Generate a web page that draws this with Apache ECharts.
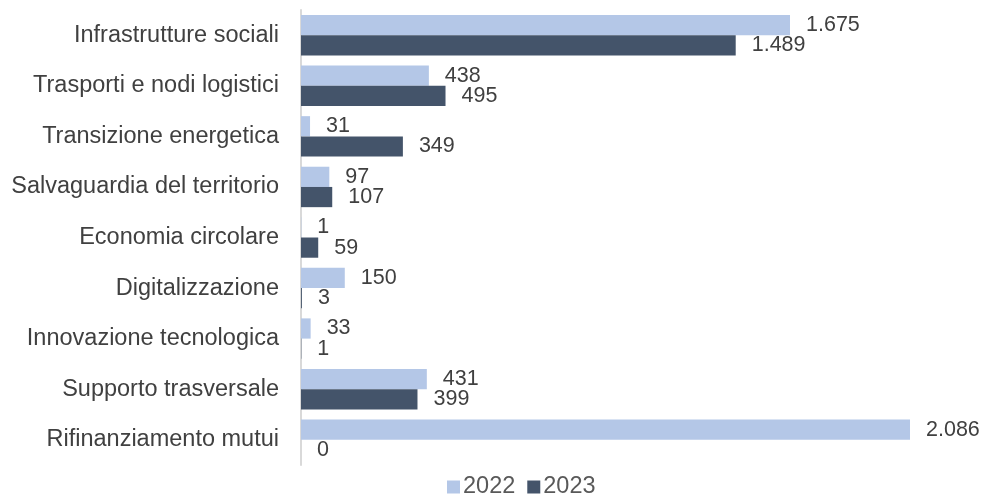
<!DOCTYPE html>
<html>
<head>
<meta charset="utf-8">
<script src="https://cdn.jsdelivr.net/npm/echarts@6/dist/echarts.min.js"></script>
<style>
  html, body { margin: 0; padding: 0; background: #fff; }
  #divBar { width: 988px; height: 498px; }
</style>
</head>
<body>
<div id="divBar"></div>
<script>
var categories = ['Infrastrutture sociali', 'Trasporti e nodi logistici', 'Transizione energetica',
    'Salvaguardia del territorio', 'Economia circolare', 'Digitalizzazione',
    'Innovazione tecnologica', 'Supporto trasversale', 'Rifinanziamento mutui'];
var values2022 = [1675, 438, 31, 97, 1, 150, 33, 431, 2086];
var values2023 = [1489, 495, 349, 107, 59, 3, 1, 399, 0];
var seriesNames = ['2022', '2023'];

var font = 'Liberation Sans, Arial, sans-serif';

function fmt(v) {
    return String(v).replace(/\B(?=(\d{3})+(?!\d))/g, '.');
}

var chart = echarts.init(document.getElementById('divBar'));

var labelStyle = {
    show: true,
    position: 'right',
    distance: 16,
    color: '#404040',
    fontSize: 21.5,
    fontFamily: font,
    formatter: function (p) { return fmt(p.value); }
};

var option = {
    animation: false,
    legend: {
        top: 470,
        left: 442,
        itemWidth: 13,
        itemHeight: 13,
        itemGap: 12,
        icon: 'rect',
        textStyle: { color: '#595959', fontSize: 23.5, fontFamily: font, padding: [0, 0, 0, -2] },
        data: seriesNames
    },
    grid: {
        left: 301,
        right: 78,
        top: 10,
        bottom: 33,
        containLabel: false
    },
    xAxis: {
        type: 'value',
        min: 0,
        max: 2086,
        show: false,
        splitLine: { show: false }
    },
    yAxis: {
        type: 'category',
        inverse: true,
        data: categories,
        axisLine: { show: true, lineStyle: { color: '#d9d9d9', width: 2 } },
        axisTick: { show: false },
        axisLabel: { color: '#404040', fontSize: 23.5, fontFamily: font, margin: 22 }
    },
    series: [
        {
            name: seriesNames[0],
            type: 'bar',
            color: '#b4c7e7',
            barGap: '0%',
            barCategoryGap: '20%',
            label: labelStyle,
            data: values2022
        },
        {
            name: seriesNames[1],
            type: 'bar',
            color: '#44546a',
            barGap: '0%',
            barCategoryGap: '20%',
            label: labelStyle,
            data: values2023
        }
    ]
};
chart.setOption(option);
</script>
</body>
</html>
